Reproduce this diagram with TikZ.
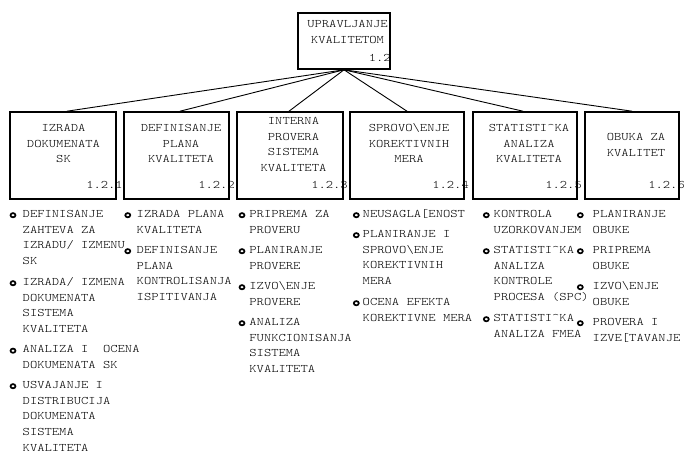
\documentclass[tikz,border=0pt]{standalone}
\usepackage{fontspec}
\newfontfamily\courfont{lmmonolt10-regular.otf}[FakeStretch=1.21]
\usetikzlibrary{calc}
\newcommand\wbsfont{\courfont\fontsize{11.5pt}{15.7pt}\selectfont}
\newcommand\wbslines[2][l]{\begin{tabular}[t]{@{}#1@{}}#2\end{tabular}}
% bullet mark + text block; #1 name, #2 bullet x, #3 text x, #4 first line y, #5 lines
\newcommand\wbsitem[5]{%
  \draw[bulletmark] (#2,#4+1.2) ellipse [x radius=2.5pt, y radius=2.1pt];
  \node[itemtext] (#1) at (#3,#4+3.4) {\wbslines{#5}};}
\tikzset{
  box/.style={draw, line width=1.6pt, inner sep=0pt},
  conn/.style={line width=0.9pt},
  boxtext/.style={anchor=base, inner sep=0pt, font=\wbsfont},
  numtext/.style={anchor=base east, inner sep=0pt, font=\wbsfont},
  itemtext/.style={anchor=base west, inner sep=0pt, font=\wbsfont},
  bulletmark/.style={line width=1.7pt}
}
\begin{document}
\begin{tikzpicture}[x=1pt, y=-1pt]
\useasboundingbox (0,0) rectangle (685,450);
\clip (0,0) rectangle (685,450);
\fill[white] (0,0) rectangle (685,450);

% root
\node[box, minimum width=92pt, minimum height=56pt] (root) at (344,41) {};
\node[boxtext] (roott) at (347.5,27.4) {\wbslines[c]{UPRAVLJANJE\\KVALITETOM}};
\node[numtext] (rootn) at (391,61.4) {1.2};

% second level
\node[box, minimum width=106pt, minimum height=87pt] (b1) at (63,155.5) {};
\node[box, minimum width=105pt, minimum height=87pt] (b2) at (176.5,155.5) {};
\node[box, minimum width=106pt, minimum height=87pt] (b3) at (290,155.5) {};
\node[box, minimum width=114pt, minimum height=87pt] (b4) at (407,155.5) {};
\node[box, minimum width=104pt, minimum height=87pt] (b5) at (525,155.5) {};
\node[box, minimum width=94pt, minimum height=87pt] (b6) at (632,155.5) {};

\node[boxtext] (t1) at (63.5,131.4) {\wbslines[c]{IZRADA\\DOKUMENATA\\SK}};
\node[boxtext] (t2) at (181,131.4) {\wbslines[c]{DEFINISANJE\\PLANA\\KVALITETA}};
\node[boxtext] (t3) at (293.5,124.4) {\wbslines[c]{INTERNA\\PROVERA\\SISTEMA\\KVALITETA}};
\node[boxtext] (t4) at (409,131.4) {\wbslines[c]{SPROVO\textbackslash ENJE\\KOREKTIVNIH\\MERA}};
\node[boxtext] (t5) at (529,131.4) {\wbslines[c]{STATISTI\textasciicircum KA\\ANALIZA\\KVALITETA}};
\node[boxtext] (t6) at (636,140.4) {\wbslines[c]{OBUKA ZA\\KVALITET}};

\node[numtext] (n1) at (123,188.4) {1.2.1};
\node[numtext] (n2) at (235,188.4) {1.2.2};
\node[numtext] (n3) at (348,188.4) {1.2.3};
\node[numtext] (n4) at (469,188.4) {1.2.4};
\node[numtext] (n5) at (582,188.4) {1.2.5};
\node[numtext] (n6) at (685,188.4) {1.2.6};

% connectors
\draw[conn] (root.south) -- ([xshift=4pt]b1.north);
\draw[conn] (root.south) -- ([xshift=3.5pt]b2.north);
\draw[conn] (root.south) -- ([xshift=-1pt]b3.north);
\draw[conn] (root.south) -- (b4.north);
\draw[conn] (root.south) -- ([xshift=-2pt]b5.north);
\draw[conn] (root.south) -- (b6.north);

% activity lists
\wbsitem{i11}{13}{22.5}{214}{DEFINISANJE\\ZAHTEVA ZA\\IZRADU/ IZMENU\\SK}
\wbsitem{i12}{13}{22.5}{282}{IZRADA/ IZMENA\\DOKUMENATA\\SISTEMA\\KVALITETA}
\wbsitem{i13}{13}{22.5}{349.5}{ANALIZA I\ \ OCENA\\DOKUMENATA SK}
\wbsitem{i14}{13}{22.5}{385}{USVAJANJE I\\DISTRIBUCIJA\\DOKUMENATA\\SISTEMA\\KVALITETA}

\wbsitem{i21}{127.8}{136.5}{214}{IZRADA PLANA\\KVALITETA}
\wbsitem{i22}{127.8}{136.5}{250}{DEFINISANJE\\PLANA\\KONTROLISANJA\\ISPITIVANJA}

\wbsitem{i31}{242}{249.2}{214}{PRIPREMA ZA\\PROVERU}
\wbsitem{i32}{242}{249.2}{250}{PLANIRANJE\\PROVERE}
\wbsitem{i33}{242}{249.2}{286}{IZVO\textbackslash ENJE\\PROVERE}
\wbsitem{i34}{242}{249.2}{322}{ANALIZA\\FUNKCIONISANJA\\SISTEMA\\KVALITETA}

\wbsitem{i41}{356.3}{362.5}{214}{NEUSAGLA[ENOST}
\wbsitem{i42}{356.3}{362.5}{234}{PLANIRANJE I\\SPROVO\textbackslash ENJE\\KOREKTIVNIH\\MERA}
\wbsitem{i43}{356.3}{362.5}{302}{OCENA EFEKTA\\KOREKTIVNE MERA}

\wbsitem{i51}{486.3}{493.5}{214}{KONTROLA\\UZORKOVANJEM}
\wbsitem{i52}{486.3}{493.5}{250}{STATISTI\textasciicircum KA\\ANALIZA\\KONTROLE\\PROCESA (SPC)}
\wbsitem{i53}{486.3}{493.5}{318}{STATISTI\textasciicircum KA\\ANALIZA FMEA}

\wbsitem{i61}{580.3}{592.5}{214}{PLANIRANJE\\OBUKE}
\wbsitem{i62}{580.3}{592.5}{250}{PRIPREMA\\OBUKE}
\wbsitem{i63}{580.3}{592.5}{286}{IZVO\textbackslash ENJE\\OBUKE}
\wbsitem{i64}{580.3}{592.5}{322}{PROVERA I\\IZVE[TAVANJE}
\end{tikzpicture}
\end{document}
